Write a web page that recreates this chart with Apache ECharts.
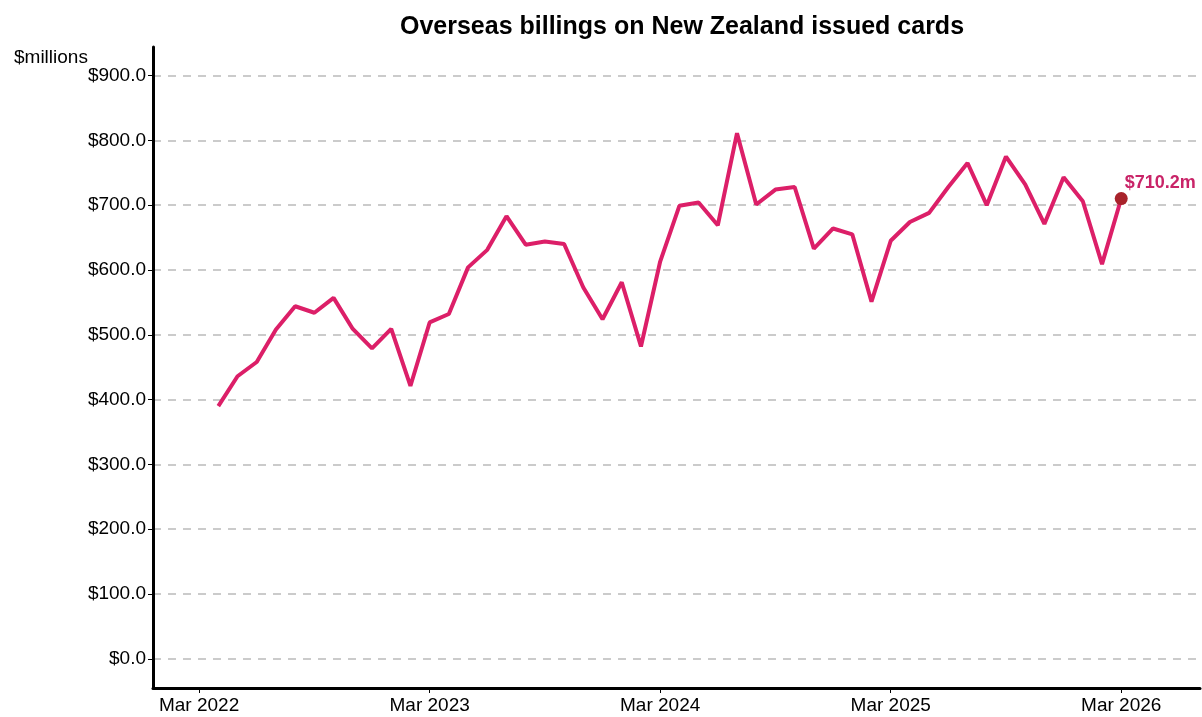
<!DOCTYPE html>
<html>
<head>
<meta charset="utf-8">
<script src="https://cdn.jsdelivr.net/npm/echarts@6/dist/echarts.min.js"></script>
<style>
  html, body { margin: 0; padding: 0; background: #fff; }
  #chart { width: 1202px; height: 717px; }
</style>
</head>
<body>
<div id="chart"></div>
<script>
// monthly overseas billings, $ millions, Apr 2022 - Mar 2026
// x position = months since Mar 2022
const monthIndex = [
  1, 2, 3, 4, 5, 6, 7, 8, 9, 10, 11, 12,
  13, 14, 15, 16, 17, 18, 19, 20, 21, 22, 23, 24,
  25, 26, 27, 28, 29, 30, 31, 32, 33, 34, 35, 36,
  37, 38, 39, 40, 41, 42, 43, 44, 45, 46, 47, 48
];
const billings = [
  390, 436, 458, 508, 544, 534, 557, 509, 479,
  509, 421, 519, 532, 604, 631, 683, 639, 644, 640, 573, 524,
  581, 482, 613, 699, 704, 669, 811, 701, 724, 728, 633, 664,
  655, 551, 645, 674, 688, 728, 765, 700, 775, 732, 671, 743,
  706, 609, 710.2
];
const xTicks = [0, 12, 24, 36, 48];
const xTickLabels = ['Mar 2022', 'Mar 2023', 'Mar 2024', 'Mar 2025', 'Mar 2026'];
const yTicks = [0, 100, 200, 300, 400, 500, 600, 700, 800, 900];

const lineData = monthIndex.map((m, i) => [m, billings[i]]);
const lastPoint = lineData[lineData.length - 1];

const font = "'Liberation Sans', Arial, sans-serif";
const chart = echarts.init(document.getElementById('chart'));

chart.setOption({
  animation: false,
  textStyle: { fontFamily: font },
  title: [
    {
      text: 'Overseas billings on New Zealand issued cards',
      left: 677, top: 10, textAlign: 'center',
      textStyle: { fontFamily: font, fontSize: 25, fontWeight: 'bold', color: '#000' }
    },
    {
      text: '$millions',
      left: 9, top: 43,
      textStyle: { fontFamily: font, fontSize: 19, fontWeight: 'normal', color: '#000' }
    }
  ],
  grid: { left: 153, right: 2, top: 47, bottom: 29 },
  xAxis: {
    type: 'value',
    min: -2.4,
    max: 52.1,
    axisLine: { onZero: false, lineStyle: { color: '#000', width: 3 } },
    axisTick: { customValues: xTicks, length: 5, lineStyle: { color: '#000', width: 1 } },
    axisLabel: {
      customValues: xTicks,
      color: '#000', fontSize: 19, margin: 8,
      formatter: v => xTickLabels[xTicks.indexOf(v)]
    },
    splitLine: { show: false }
  },
  yAxis: {
    type: 'value',
    min: -45,
    max: 944,
    axisLine: { show: true, onZero: false, lineStyle: { color: '#000', width: 3 } },
    axisTick: { show: true, customValues: yTicks, length: 5, lineStyle: { color: '#000', width: 1 } },
    axisLabel: {
      customValues: yTicks,
      color: '#000', fontSize: 19, margin: 7,
      formatter: v => '$' + v.toFixed(1)
    },
    splitLine: { show: true, lineStyle: { color: '#bbbbbb', width: 1.5, type: [8, 7] } }
  },
  series: [
    {
      type: 'line',
      data: lineData,
      showSymbol: false,
      lineStyle: { color: '#dc1f68', width: 4 },
      z: 2
    },
    {
      type: 'scatter',
      data: [lastPoint],
      symbolSize: 13,
      itemStyle: { color: '#a8232b', opacity: 1 },
      label: {
        show: true,
        position: 'right',
        offset: [-8, -16],
        formatter: p => '$' + p.value[1].toFixed(1) + 'm',
        color: '#c92468', fontSize: 18, fontWeight: 'bold', fontFamily: font
      },
      z: 3
    }
  ]
});
</script>
</body>
</html>
